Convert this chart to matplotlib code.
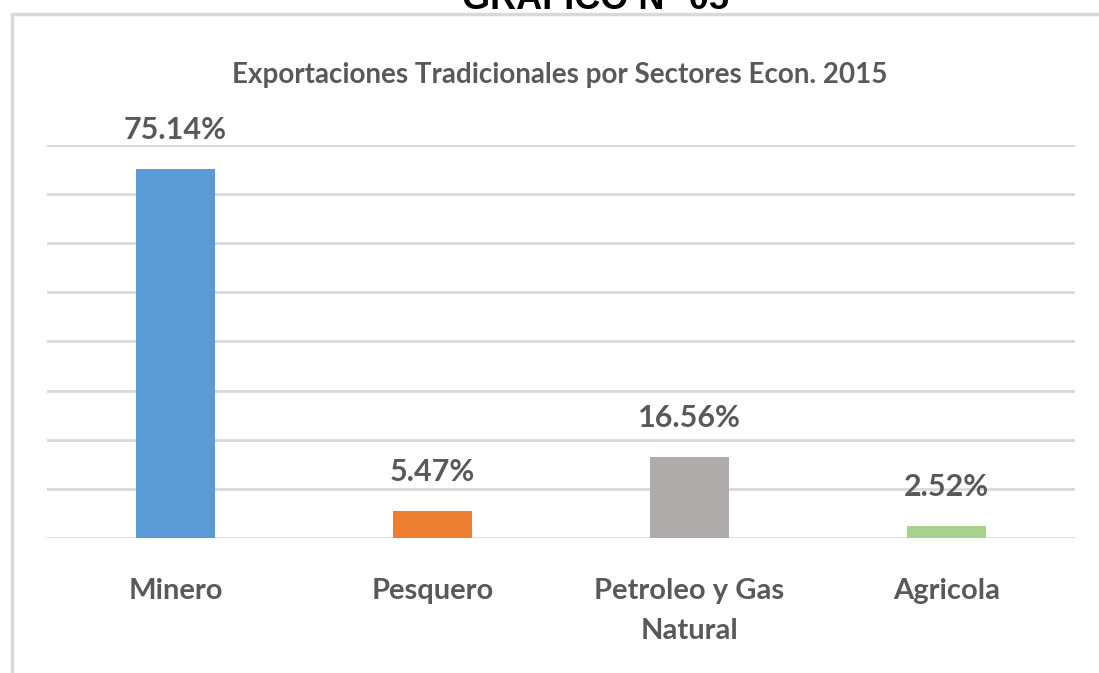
import matplotlib.pyplot as plt
from matplotlib.patches import Rectangle

# Datos del grafico
sectores = ['Minero', 'Pesquero', 'Petroleo y Gas\nNatural', 'Agricola']
porcentajes = [75.14, 5.47, 16.56, 2.52]
etiquetas = ['75.14%', '5.47%', '16.56%', '2.52%']
colores = ['#5B9BD5', '#ED7D31', '#AFABAB', '#A9D18E']
titulo = 'Exportaciones Tradicionales por Sectores Econ. 2015'
encabezado = 'GRAFICO N° 05'

fuente = ['Lato', 'DejaVu Sans']
gris_texto = '#595959'

fig = plt.figure(figsize=(10.99, 6.73), dpi=100)

# Marco del grafico (solo borde superior e izquierdo visibles)
marco = Rectangle((12 / 1099, -0.1), 1.2, (673 - 14) / 673 + 0.1,
                  transform=fig.transFigure, fill=False,
                  edgecolor='#D9D9D9', linewidth=2.5)
fig.patches.append(marco)

# Encabezado cortado arriba (como en la imagen original)
fig.text(595 / 1099, 1 - 9 / 673, encabezado, ha='center', va='baseline',
         fontsize=26, fontweight='bold', color='black',
         family=['Liberation Sans', 'DejaVu Sans'])

ax = fig.add_axes([47 / 1099, (673 - 538) / 673, 1028 / 1099, (538 - 145) / 673])
x = range(len(sectores))
barras = ax.bar(x, porcentajes, width=0.307, color=colores, zorder=3)

ax.set_xlim(-0.5, 3.5)
ax.set_ylim(0, 80)
ax.set_yticks(range(0, 81, 10))
ax.grid(axis='y', color='#D9D9D9', linewidth=2, zorder=0)
ax.tick_params(axis='y', left=False, labelleft=False)
ax.tick_params(axis='x', bottom=False, pad=25)
ax.set_xticks(list(x))
ax.set_xticklabels(sectores, fontsize=21, fontweight='bold', color=gris_texto,
                   family=fuente, linespacing=1.7, va='top')
for lado in ['top', 'right', 'left', 'bottom']:
    ax.spines[lado].set_visible(False)

# Etiquetas de datos
for barra, texto in zip(barras, etiquetas):
    ax.annotate(texto, (barra.get_x() + barra.get_width() / 2, barra.get_height()),
                xytext=(0, 18), textcoords='offset points', ha='center', va='bottom',
                fontsize=22, fontweight='bold', color=gris_texto, family=fuente)

fig.text(560 / 1099, 1 - 75 / 673, titulo, ha='center', va='center',
         fontsize=20, fontweight='bold', color=gris_texto, family=fuente)

fig.savefig('out.png', dpi=100)
plt.close(fig)
